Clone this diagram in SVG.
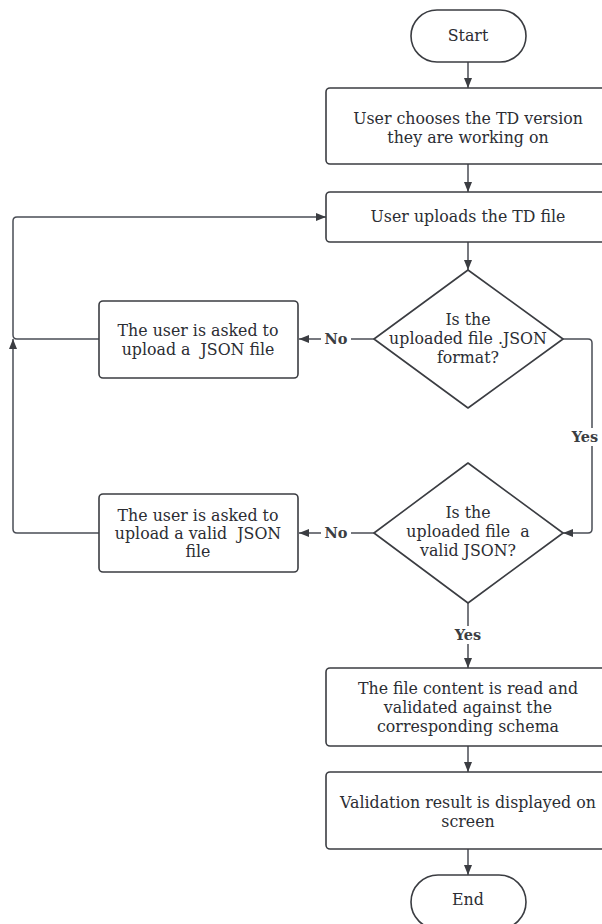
<svg xmlns="http://www.w3.org/2000/svg" width="602" height="924" viewBox="0 0 602 924">
<style>
.n{fill:#fff;stroke:#3b3d42;stroke-width:1.6}
.t{font-family:"DejaVu Serif","Liberation Serif",serif;font-size:15.8px;fill:#2b2d33;text-anchor:middle;white-space:pre}
.c{fill:none;stroke:#4a4d55;stroke-width:1.5}
.l{font-family:"DejaVu Serif","Liberation Serif",serif;font-size:14.5px;font-weight:bold;fill:#3b3d42;text-anchor:middle}
.lb{fill:#fff}
</style>
<defs>
<marker id="a" viewBox="0 0 10 10" refX="10" refY="5" markerWidth="10" markerHeight="10" markerUnits="userSpaceOnUse" orient="auto">
<path d="M0,1 L10,5 L0,9 Z" fill="#3b3d42"/>
</marker>
</defs>
<rect width="602" height="924" fill="#fff"/>
<g id="connectors">
<path class="c" d="M468,62 V88" marker-end="url(#a)"/>
<path class="c" d="M468,164 V192" marker-end="url(#a)"/>
<path class="c" d="M468,242 V270" marker-end="url(#a)"/>
<path class="c" d="M374,339 H299" marker-end="url(#a)"/>
<path class="c" d="M99,339 H17 Q13,339 13,335 V221 Q13,217 17,217 H326" marker-end="url(#a)"/>
<path class="c" d="M563,339 H588 Q592,339 592,343 V529 Q592,533 588,533 H563" marker-end="url(#a)"/>
<path class="c" d="M374,533 H299" marker-end="url(#a)"/>
<path class="c" d="M99,533 H17 Q13,533 13,529 V339" marker-end="url(#a)"/>
<path class="c" d="M468,603 V668" marker-end="url(#a)"/>
<path class="c" d="M468,746 V772" marker-end="url(#a)"/>
<path class="c" d="M468,849 V875" marker-end="url(#a)"/>
<rect class="lb" x="321" y="330" width="30" height="18"/>
<text class="l" x="336" y="344">No</text>
<rect class="lb" x="569" y="428" width="33" height="18"/>
<text class="l" x="585" y="442">Yes</text>
<rect class="lb" x="321" y="524" width="30" height="18"/>
<text class="l" x="336" y="538">No</text>
<rect class="lb" x="452" y="626" width="32" height="18"/>
<text class="l" x="468" y="640">Yes</text>
</g>
<g id="start">
<rect class="n" x="411" y="10" width="115" height="52" rx="26"/>
<text class="t" x="468" y="41">Start</text>
</g>
<g id="choose">
<rect class="n" x="326" y="88" width="290" height="76" rx="4"/>
<text class="t" x="468" y="124">User chooses the TD version</text>
<text class="t" x="468" y="143">they are working on</text>
</g>
<g id="upload">
<rect class="n" x="326" y="192" width="290" height="50" rx="4"/>
<text class="t" x="468" y="222">User uploads the TD file</text>
</g>
<g id="isjson">
<path class="n" d="M468,270 L563,339 L468,408 L374,339 Z" stroke-linejoin="round"/>
<text class="t" x="468" y="325">Is the</text>
<text class="t" x="468" y="344">uploaded file .JSON</text>
<text class="t" x="468" y="363">format?</text>
</g>
<g id="askjson">
<rect class="n" x="99" y="301" width="199" height="77" rx="4"/>
<text class="t" x="198" y="336">The user is asked to</text>
<text class="t" x="198" y="355">upload a  JSON file</text>
</g>
<g id="isvalid">
<path class="n" d="M468,463 L563,533 L468,603 L374,533 Z" stroke-linejoin="round"/>
<text class="t" x="468" y="518">Is the</text>
<text class="t" x="468" y="537">uploaded file  a</text>
<text class="t" x="468" y="556">valid JSON?</text>
</g>
<g id="askvalid">
<rect class="n" x="99" y="494" width="199" height="78" rx="4"/>
<text class="t" x="198" y="521">The user is asked to</text>
<text class="t" x="198" y="539">upload a valid  JSON</text>
<text class="t" x="198" y="557">file</text>
</g>
<g id="validate">
<rect class="n" x="326" y="668" width="290" height="78" rx="4"/>
<text class="t" x="468" y="694">The file content is read and</text>
<text class="t" x="468" y="713">validated against the</text>
<text class="t" x="468" y="732">corresponding schema</text>
</g>
<g id="result">
<rect class="n" x="326" y="772" width="290" height="77" rx="4"/>
<text class="t" x="468" y="808">Validation result is displayed on</text>
<text class="t" x="468" y="827">screen</text>
</g>
<g id="end">
<rect class="n" x="411" y="875" width="115" height="54" rx="27"/>
<text class="t" x="468" y="905">End</text>
</g>
</svg>
